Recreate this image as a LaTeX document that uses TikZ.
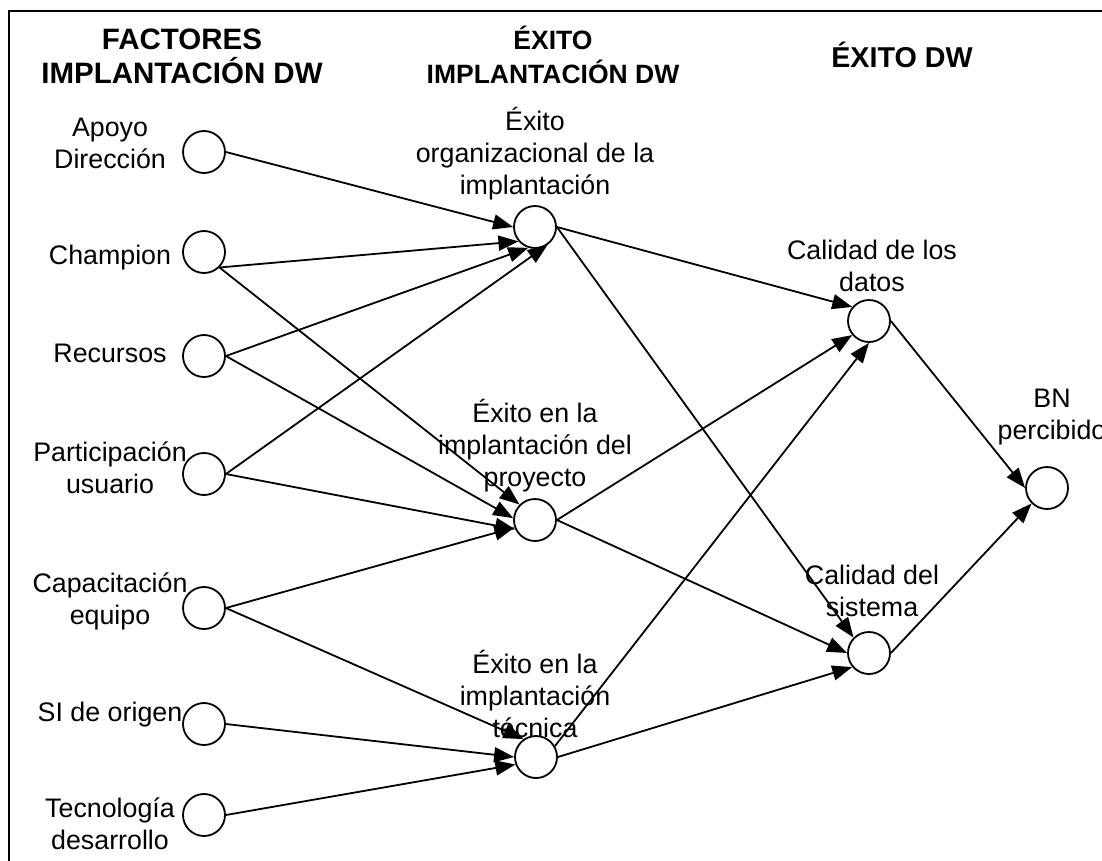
\documentclass[tikz,border=0pt]{standalone}
\usepackage{fontspec}
\setmainfont{Liberation Sans}
\usetikzlibrary{arrows.meta}

\begin{document}
\begin{tikzpicture}[x=1pt, y=-1pt,
  state/.style={circle, draw, line width=1.8pt, minimum size=42pt, inner sep=0pt, fill=white},
  lbl/.style={align=center, inner sep=0pt, font=\fontsize{26.8}{32}\selectfont},
  hdr/.style={align=center, inner sep=0pt, font=\fontsize{#1}{34}\selectfont\bfseries},
  conn/.style={line width=1.8pt, -{Triangle[length=20pt,width=15pt]}},
  frame/.style={line width=2.2pt}
]
\useasboundingbox (0,0) rectangle (1102,860);
\clip (0,0) rectangle (1102,860);

% frame (only the top and left edges fall inside the page)
\draw[frame] (1120,11) -- (9,11) -- (9,880);

% column headings
\node[hdr=29.5] (h1) at (182,56) {FACTORES\\IMPLANTACIÓN DW};
\node[hdr=26.5] (h2) at (553,55) {ÉXITO\\IMPLANTACIÓN DW};
\node[hdr=28.7] (h3) at (902,54.5) {ÉXITO DW};

% implementation factors
\node[state] (apoyo) at (204,152) {};
\node[state] (champ) at (204,252) {};
\node[state] (recur) at (204,356) {};
\node[state] (parti) at (204,474) {};
\node[state] (capac) at (204,608) {};
\node[state] (siori) at (204,724) {};
\node[state] (tecno) at (204,815) {};

\node[lbl] (lapoyo) at (110,143.5) {Apoyo\\Dirección};
\node[lbl] (lchamp) at (110,258) {Champion};
\node[lbl] (lrecur) at (110,353) {Recursos};
\node[lbl] (lparti) at (110,467.5) {Participación\\usuario};
\node[lbl] (lcapac) at (110,601) {Capacitación\\equipo};
\node[lbl] (lsiori) at (110,715) {SI de origen};
\node[lbl] (ltecno) at (110,824) {Tecnología\\desarrollo};

% implementation success
\node[state] (org) at (535,227) {};
\node[state] (pro) at (535,520) {};
\node[state] (tec) at (536,757) {};

\node[lbl] (lorg) at (535,154) {Éxito\\organizacional de la\\implantación};
\node[lbl] (lpro) at (535,445.6) {Éxito en la\\implantación del\\proyecto};
\node[lbl] (ltec) at (535,693.5) {Éxito en la\\implantación\\técnica};

% data warehouse success
\node[state] (dat) at (869,321) {};
\node[state] (sis) at (869,653) {};
\node[state] (bn) at (1047,488) {};

\node[lbl] (ldat) at (872,265.5) {Calidad de los\\datos};
\node[lbl] (lsis) at (872,591) {Calidad del\\sistema};
\node[lbl] (lbn) at (1052,417) {BN\\percibido};

% factors -> implementation success
\draw[conn] (apoyo.east) -- (org.180);
\draw[conn] (champ.-45) -- (org.221);
\draw[conn] (champ.-45) -- (pro.135);
\draw[conn] (recur.east) -- (org.252);
\draw[conn] (recur.east) -- (pro.175);
\draw[conn] (parti.east) -- (org.305);
\draw[conn] (parti.east) -- (pro.205);
\draw[conn] (capac.east) -- (pro.200);
\draw[conn] (capac.east) -- (tec.125);
\draw[conn] (siori.east) -- (tec.180);
\draw[conn] (tecno.east) -- (tec.200);

% implementation success -> DW success
\draw[conn] (org.east) -- (dat.140);
\draw[conn] (org.east) -- (sis.135);
\draw[conn] (pro.east) -- (dat.220);
\draw[conn] (pro.east) -- (sis.180);
\draw[conn] (tec.30) -- (dat.270);
\draw[conn] (tec.east) -- (sis.220);

% DW success -> perceived net benefits
\draw[conn] (dat.east) -- (bn.180);
\draw[conn] (sis.east) -- (bn.225);
\end{tikzpicture}
\end{document}
